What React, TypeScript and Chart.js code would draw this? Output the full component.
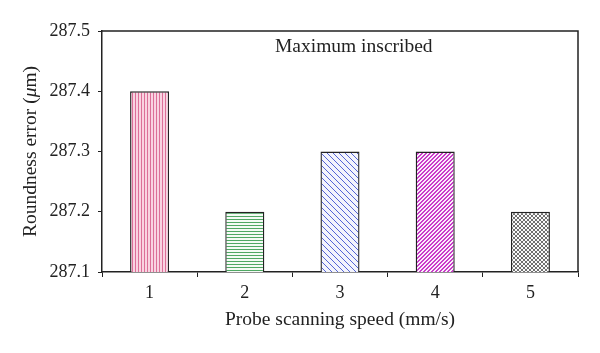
import React, { useEffect, useRef } from 'react';
import { Chart, registerables } from 'chart.js';

Chart.register(...registerables);

const categories = ['1', '2', '3', '4', '5'];
const values = [287.4, 287.2, 287.3, 287.3, 287.2];
const yTicks = [287.1, 287.2, 287.3, 287.4, 287.5];
const xTitle = 'Probe scanning speed (mm/s)';
const yTitleParts = ['Roundness error (', 'μ', 'm)'];
const annotation = 'Maximum inscribed';

const FONT = "'Liberation Serif', 'Times New Roman', serif";
const INK = '#222';

type Kind = 'v' | 'h' | 'bs' | 'fs' | 'fs2' | 'x';

function makePattern(ctx: CanvasRenderingContext2D, kind: Kind, color: string, bg: string, size: number) {
  const c = document.createElement('canvas');
  c.width = size;
  c.height = size;
  const g = c.getContext('2d')!;
  g.fillStyle = bg;
  g.fillRect(0, 0, size, size);
  g.fillStyle = color;
  if (kind === 'v') g.fillRect(0, 0, 1, size);
  if (kind === 'h') g.fillRect(0, 0, size, 1);
  for (let i = 0; i < size; i++) {
    if (kind === 'bs' || kind === 'x') g.fillRect(i, i, 1, 1);
    if (kind === 'fs' || kind === 'x') g.fillRect(size - 1 - i, i, 1, 1);
    if (kind === 'fs2') {
      g.fillRect(size - 1 - i, i, 1, 1);
      g.fillRect((2 * size - 2 - i) % size, i, 1, 1);
    }
  }
  return ctx.createPattern(c, 'repeat')!;
}

const framePlugin = {
  id: 'frameAndTitles',
  afterDraw(chart: any) {
    const { ctx, chartArea } = chart;
    const { left, right, top, bottom } = chartArea;
    ctx.save();
    ctx.strokeStyle = INK;
    ctx.lineWidth = 1.5;
    ctx.beginPath();
    ctx.moveTo(left, top);
    ctx.lineTo(right, top);
    ctx.lineTo(right, bottom);
    ctx.stroke();

    ctx.fillStyle = INK;
    ctx.textBaseline = 'middle';
    // annotation
    ctx.font = `19.5px ${FONT}`;
    ctx.textAlign = 'left';
    ctx.fillText(annotation, 275, top + 16);

    // x title
    ctx.textAlign = 'center';
    ctx.font = `19.5px ${FONT}`;
    ctx.fillText(xTitle, (left + right) / 2, 320);

    // y title rotated with italic mu
    ctx.translate(31, (top + bottom) / 2);
    ctx.rotate(-Math.PI / 2);
    const fonts = [`19.5px ${FONT}`, `italic 19.5px ${FONT}`, `19.5px ${FONT}`];
    let total = 0;
    const widths = yTitleParts.map((p, i) => {
      ctx.font = fonts[i];
      const w = ctx.measureText(p).width;
      total += w;
      return w;
    });
    let x = -total / 2;
    ctx.textAlign = 'left';
    yTitleParts.forEach((p, i) => {
      ctx.font = fonts[i];
      ctx.fillText(p, x, 0);
      x += widths[i];
    });
    ctx.restore();
  },
};

export default function App() {
  const ref = useRef<HTMLCanvasElement>(null);

  useEffect(() => {
    const canvas = ref.current!;
    const ctx = canvas.getContext('2d')!;
    const patterns = [
      makePattern(ctx, 'v', '#dc6f98', '#f9d3e1', 3),
      makePattern(ctx, 'h', '#4fa863', '#f4fbf5', 3),
      makePattern(ctx, 'bs', '#5565d6', '#f3f4fc', 6),
      makePattern(ctx, 'fs2', '#c93cc9', '#fbeefb', 4),
      makePattern(ctx, 'x', '#707070', '#fafafa', 4),
    ];

    const chart = new Chart(ctx, {
      type: 'bar',
      data: {
        labels: categories,
        datasets: [
          {
            data: values,
            backgroundColor: patterns as any,
            borderColor: INK,
            borderWidth: 1.4,
            barPercentage: 0.41,
            categoryPercentage: 1,
          },
        ],
      },
      options: {
        responsive: false,
        animation: false,
        events: [],
        layout: { padding: { top: 31, right: 22, bottom: 0, left: 0 } },
        plugins: {
          legend: { display: false },
          tooltip: { enabled: false },
          title: { display: false },
        },
        scales: {
          x: {
            offset: true,
            grid: {
              display: true,
              drawOnChartArea: false,
              drawTicks: true,
              tickLength: 5,
              color: INK,
              offset: true,
            },
            border: { display: true, color: INK, width: 1.5 },
            ticks: { color: INK, font: { family: FONT, size: 18 }, padding: 5 },
            afterFit: (s: any) => {
              s.height = 81;
            },
          },
          y: {
            min: 287.1,
            max: 287.5,
            grid: {
              display: true,
              drawOnChartArea: false,
              drawTicks: true,
              tickLength: 4,
              color: INK,
            },
            border: { display: true, color: INK, width: 1.5 },
            afterBuildTicks: (s: any) => {
              s.ticks = yTicks.map((v) => ({ value: v }));
            },
            ticks: {
              color: INK,
              font: { family: FONT, size: 18 },
              padding: 8,
              callback: (v: any) => Number(v).toFixed(1),
            },
            afterFit: (s: any) => {
              s.width = 102;
            },
          },
        },
      },
      plugins: [framePlugin],
    });
    return () => chart.destroy();
  }, []);

  return (
    <div style={{ position: 'absolute', left: 0, top: 0, width: 600, height: 353, background: '#fff' }}>
      <canvas ref={ref} width={600} height={353} style={{ display: 'block' }} />
    </div>
  );
}
